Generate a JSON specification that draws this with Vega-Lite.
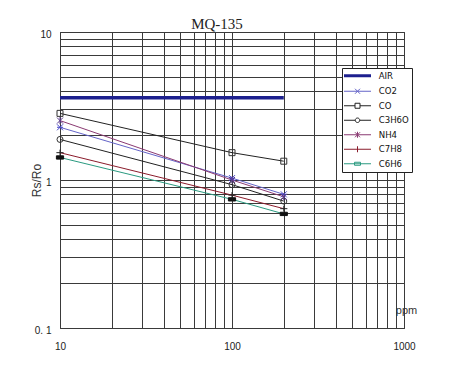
{
  "$schema": "https://vega.github.io/schema/vega-lite/v6.json",
  "width": 344,
  "height": 296,
  "autosize": "none",
  "padding": {"left": 60, "top": 32, "right": 53, "bottom": 38},
  "background": "white",
  "title": {"text": "MQ-135", "font": "Liberation Serif", "fontSize": 15, "fontWeight": "normal", "color": "#222", "anchor": "middle", "frame": "group", "dx": -15, "dy": 18, "offset": 3, "baseline": "alphabetic"},
  "data": {"values": [
    {"gas": "AIR", "ppm": 10, "rs": 3.6}, {"gas": "AIR", "ppm": 200, "rs": 3.6},
    {"gas": "CO2", "ppm": 10, "rs": 2.27}, {"gas": "CO2", "ppm": 100, "rs": 1.03}, {"gas": "CO2", "ppm": 200, "rs": 0.8},
    {"gas": "CO", "ppm": 10, "rs": 2.82}, {"gas": "CO", "ppm": 100, "rs": 1.53}, {"gas": "CO", "ppm": 200, "rs": 1.34},
    {"gas": "C3H6O", "ppm": 10, "rs": 1.88}, {"gas": "C3H6O", "ppm": 100, "rs": 0.93}, {"gas": "C3H6O", "ppm": 200, "rs": 0.72},
    {"gas": "NH4", "ppm": 10, "rs": 2.52}, {"gas": "NH4", "ppm": 100, "rs": 1.0}, {"gas": "NH4", "ppm": 200, "rs": 0.77},
    {"gas": "C7H8", "ppm": 10, "rs": 1.53}, {"gas": "C7H8", "ppm": 100, "rs": 0.79}, {"gas": "C7H8", "ppm": 200, "rs": 0.64},
    {"gas": "C6H6", "ppm": 10, "rs": 1.42}, {"gas": "C6H6", "ppm": 100, "rs": 0.74}, {"gas": "C6H6", "ppm": 200, "rs": 0.59}
  ]},
  "encoding": {
    "x": {"field": "ppm", "type": "quantitative",
      "scale": {"type": "log", "domain": [10, 1000], "nice": false},
      "axis": {"values": [10,20,30,40,50,60,70,80,90,100,200,300,400,500,600,700,800,900,1000],
        "labelExpr": "datum.value == 10 ? '10' : datum.value == 100 ? '100' : datum.value == 1000 ? '1000' : ''",
        "labelPadding": 13, "labelFlush": false, "labelOverlap": false, "labelBaseline": "top",
        "title": "ppm", "titleX": 346, "titleY": -18, "titleAlign": "center", "titleBaseline": "middle",
        "titleFont": "Liberation Sans", "titleFontSize": 11, "titleFontWeight": "normal", "titleColor": "#333"}},
    "y": {"field": "rs", "type": "quantitative",
      "scale": {"type": "log", "domain": [0.1, 10], "nice": false},
      "axis": {"values": [0.1,0.2,0.3,0.4,0.5,0.6,0.7,0.8,0.9,1,2,3,4,5,6,7,8,9,10],
        "labelExpr": "datum.value == 0.1 ? '0. 1' : datum.value == 1 ? '1' : datum.value == 10 ? '10' : ''",
        "labelPadding": 9, "labelOffset": 2, "labelOverlap": false, "labelFlush": false,
        "title": "Rs/Ro", "titleX": -24, "titleY": 148, "titleAngle": -90, "titleAlign": "center", "titleBaseline": "middle",
        "titleFont": "Liberation Sans", "titleFontSize": 12, "titleFontWeight": "normal", "titleColor": "#333"}},
    "color": {"field": "gas", "type": "nominal",
      "scale": {"domain": ["AIR","CO2","CO","C3H6O","NH4","C7H8","C6H6"],
                "range": ["#1c1f8e","#6464c8","#222222","#222222","#8a3a72","#8b1c2c","#2a9a80"]},
      "legend": {
        "orient": "none", "legendX": 282, "legendY": 36, "title": null,
        "strokeColor": "#222", "fillColor": "white", "padding": 3, "rowPadding": 3.5,
        "symbolSize": 100, "symbolOffset": 7.75, "labelOffset": 16.5,
        "labelFont": "DejaVu Sans Condensed, Liberation Sans", "labelFontSize": 9.5, "labelColor": "#111",
        "symbolStrokeWidth": 1,
        "encode": {"symbols": {"update": {
          "shape": {"signal": "datum.value === 'AIR' ? 'M-2.7,0H2.7' : datum.value === 'CO2' ? 'M-2.7,0H2.7M-0.5,-0.5L0.5,0.5M-0.5,0.5L0.5,-0.5' : datum.value === 'CO' ? 'M-2.7,0H-0.5M0.5,0H2.7M-0.5,-0.5H0.5V0.5H-0.5Z' : datum.value === 'C3H6O' ? 'M-2.7,0H-0.45M0.45,0H2.7M-0.45,0A0.45,0.45 0 1,0 0.45,0A0.45,0.45 0 1,0 -0.45,0' : datum.value === 'NH4' ? 'M-2.7,0H2.7M-0.5,-0.5L0.5,0.5M-0.5,0.5L0.5,-0.5M0,-0.6V0.6' : datum.value === 'C7H8' ? 'M-2.7,0H2.7M0,-0.6V0.6' : 'M-2.7,0H2.7M-0.6,-0.3H0.6V0.3H-0.6Z'"},
          "strokeWidth": {"signal": "datum.value === 'AIR' ? 3 : 1"},
          "fill": {"value": "transparent"}
        }}}
      }}
  },
  "layer": [
    {
      "transform": [{"filter": "datum.gas === 'AIR'"}],
      "mark": {"type": "line", "strokeWidth": 3.5}
    },
    {
      "transform": [{"filter": "datum.gas !== 'AIR'"}],
      "mark": {"type": "line", "strokeWidth": 1}
    },
    {
      "transform": [{"filter": "datum.gas !== 'AIR'"}],
      "mark": {"type": "point", "filled": true, "size": 36, "strokeWidth": 1, "opacity": 1},
      "encoding": {
        "color": null,
        "shape": {"field": "gas", "type": "nominal",
          "scale": {"domain": ["CO2","CO","C3H6O","NH4","C7H8","C6H6"],
            "range": ["M-1,-1L1,1M-1,1L1,-1M-1,0H1", "M-1,-1H1V1H-1Z", "circle", "M-1,-1L1,1M-1,1L1,-1M0,-1.2V1.2", "M-1.2,0H1.2M0,-1V1", "M-1.2,-0.55H1.2V0.55H-1.2Z"]},
          "legend": null},
        "stroke": {"field": "gas", "type": "nominal",
          "scale": {"domain": ["CO2","CO","C3H6O","NH4","C7H8","C6H6"],
            "range": ["#4a4ac8","#333333","#333333","#5a3a8a","#222222","#111111"]},
          "legend": null},
        "fill": {"field": "gas", "type": "nominal",
          "scale": {"domain": ["CO2","CO","C3H6O","NH4","C7H8","C6H6"],
            "range": ["transparent","transparent","transparent","transparent","transparent","#111111"]},
          "legend": null}
      }
    }
  ],
  "config": {
    "view": {"stroke": "#222", "strokeWidth": 1},
    "axis": {"domain": false, "ticks": false, "grid": true, "gridColor": "#3a3a3a", "gridOpacity": 1, "gridWidth": 1,
      "labelFont": "Liberation Sans", "labelFontSize": 10, "labelColor": "#222"}
  }
}
